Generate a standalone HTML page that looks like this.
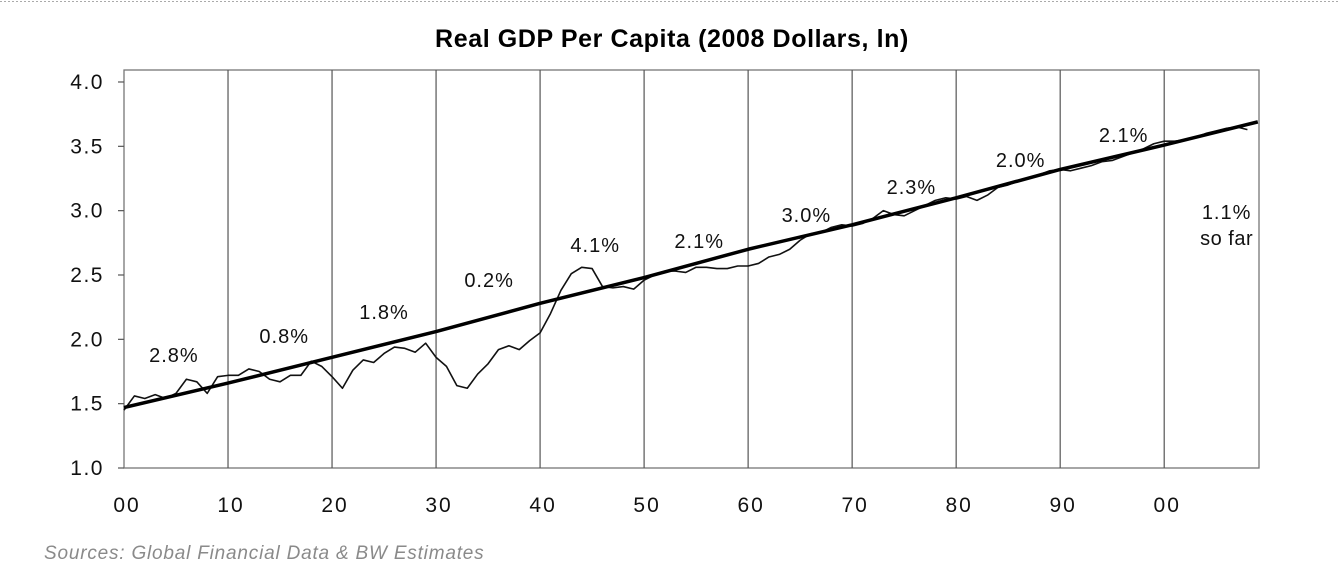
<!DOCTYPE html>
<html><head><meta charset="utf-8"><style>
body{margin:0;background:#fff;width:1340px;height:580px;overflow:hidden;font-family:"Liberation Sans",sans-serif;}
svg text{font-family:"Liberation Sans",sans-serif;}
</style></head><body>
<svg id="chart" width="1340" height="580">
<line x1="0" y1="1.5" x2="1340" y2="1.5" stroke="#aaa" stroke-dasharray="2,2"/>
<text x="672" y="47" text-anchor="middle" font-size="25" font-weight="bold" letter-spacing="0.6" fill="#000">Real GDP Per Capita (2008 Dollars, ln)</text>
<text x="44" y="559" font-size="19" font-style="italic" letter-spacing="0.8" fill="#8a8a8a">Sources: Global Financial Data &amp; BW Estimates</text>
<g id="grid"></g><g id="series"></g><g id="labels"></g>
</svg>
<script>
const yTicks=[1.0,1.5,2.0,2.5,3.0,3.5,4.0];
const decadeYears=[1900,1910,1920,1930,1940,1950,1960,1970,1980,1990,2000];
const decadeLabels=["00","10","20","30","40","50","60","70","80","90","00"];
const trendYears=[1900,1910,1920,1930,1940,1950,1960,1970,1980,1990,2000,2009];
const trendValues=[1.47,1.66,1.86,2.06,2.28,2.48,2.70,2.89,3.10,3.32,3.51,3.69];
const actualStart=1900;
const actualValues=[1.45,1.56,1.54,1.57,1.54,1.58,1.69,1.67,1.58,1.71,
1.72,1.72,1.77,1.75,1.69,1.67,1.72,1.72,1.83,1.79,
1.71,1.62,1.76,1.84,1.82,1.89,1.94,1.93,1.90,1.97,
1.86,1.79,1.64,1.62,1.73,1.81,1.92,1.95,1.92,1.99,
2.05,2.20,2.38,2.51,2.56,2.55,2.41,2.40,2.41,2.39,
2.46,2.50,2.53,2.53,2.52,2.56,2.56,2.55,2.55,2.57,
2.57,2.59,2.64,2.66,2.70,2.77,2.82,2.83,2.87,2.89,
2.88,2.90,2.94,3.00,2.97,2.96,3.00,3.04,3.08,3.10,
3.09,3.11,3.08,3.12,3.18,3.20,3.23,3.25,3.28,3.31,
3.32,3.31,3.33,3.35,3.38,3.39,3.42,3.45,3.48,3.52,
3.54,3.54,3.55,3.57,3.60,3.62,3.64,3.65,3.63];
const annotText=["2.8%","0.8%","1.8%","0.2%","4.1%","2.1%","3.0%","2.3%","2.0%","2.1%","1.1%"];
const annotYear=[1904.8,1915.4,1925.0,1935.1,1945.3,1955.3,1965.6,1975.7,1986.2,1996.1,2006];
const annotValue=[1.824,1.971,2.158,2.407,2.679,2.710,2.912,3.129,3.339,3.534,2.935];

const X0=124,X1=1259,Y0=468,Ytop=70;
const x=yr=>X0+(yr-1900)*(1035/99.5);
const y=v=>Y0-(v-1)*128.67;
const NS="http://www.w3.org/2000/svg";
function mk(tag,attrs,parent,txt){const e=document.createElementNS(NS,tag);for(const k in attrs)e.setAttribute(k,attrs[k]);if(txt!==undefined)e.textContent=txt;document.getElementById(parent).appendChild(e);return e;}

let e;
e=mk('rect',{x:X0,y:Ytop,width:X1-X0,height:Y0-Ytop,fill:'none',stroke:'#777','stroke-width':1.3},'grid');


decadeYears.forEach((yr,i)=>{
  if(i>0){e=mk('line',{x1:x(yr),y1:Ytop,x2:x(yr),y2:Y0,stroke:'#555','stroke-width':1.2},'grid');
  
  }
  e=mk('text',{x:x(yr)+3,y:Y0+44,'text-anchor':'middle','font-size':21,'letter-spacing':2,fill:'#111'},'labels',decadeLabels[i]);
  
  
});
yTicks.forEach(v=>{
  e=mk('line',{x1:X0-6,y1:y(v),x2:X0,y2:y(v),stroke:'#555','stroke-width':1.2},'grid');
  
  
  e=mk('text',{x:104,y:y(v)+7,'text-anchor':'end','font-size':21,'letter-spacing':1.5,fill:'#111'},'labels',v.toFixed(1));
  
  
});
e=mk('polyline',{points:actualValues.map((v,i)=>x(actualStart+i)+','+y(v)).join(' '),fill:'none',stroke:'#111','stroke-width':1.6,'stroke-linejoin':'round'},'series');


e=mk('polyline',{points:trendYears.map((yr,i)=>x(yr)+','+y(trendValues[i])).join(' '),fill:'none',stroke:'#000','stroke-width':3.5,'stroke-linejoin':'round'},'series');


annotText.forEach((t,i)=>{
  e=mk('text',{x:x(annotYear[i]),y:y(annotValue[i]),'text-anchor':'middle','font-size':20,'letter-spacing':1,fill:'#111'},'labels',t);
  
  
});
e=mk('text',{x:x(2006),y:y(annotValue[10])+26,'text-anchor':'middle','font-size':20,'letter-spacing':0.5,fill:'#111'},'labels','so far');


</script>
</body></html>
